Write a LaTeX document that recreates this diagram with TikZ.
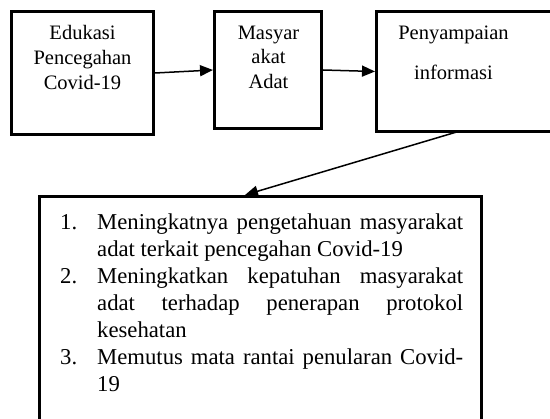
\documentclass[tikz,border=0pt]{standalone}
\usepackage{fontspec}
\setmainfont{Liberation Serif}
\usetikzlibrary{arrows.meta}
\newcommand{\listitem}[2]{\noindent\hangindent=37pt\hangafter=1\makebox[37pt][l]{#1}#2\par}
\begin{document}
\begin{tikzpicture}[x=1pt,y=-1pt,
  box/.style={draw,line width=3.4pt,inner sep=0pt,outer sep=1.7pt},
  lbl/.style={font=\fontsize{20.5}{24}\selectfont,anchor=base,inner sep=0pt},
  arr/.style={line width=1.5pt,-{Triangle[length=13pt,width=11pt]}}]
\useasboundingbox (0,0) rectangle (550,419);
\clip (0,0) rectangle (550,419);
\fill[white] (0,0) rectangle (550,419);
% boxes
\node[box,minimum width=141.6pt,minimum height=122.6pt] (b1) at (82.5,73) {};
\node[box,minimum width=106.6pt,minimum height=116.6pt] (b2) at (268,70) {};
\node[box,minimum width=181.6pt,minimum height=119.6pt] (b3) at (467.5,71.5) {};
\node[box,minimum width=441.6pt,minimum height=251.6pt] (bb) at (260.5,322.5) {};
% labels
\node[lbl] (t1a) at (82.5,39.5) {Edukasi};
\node[lbl] (t1b) at (82.5,64.5) {Pencegahan};
\node[lbl] (t1c) at (82.5,89.5) {Covid-19};
\node[lbl] (t2a) at (268.5,39.5) {Masyar};
\node[lbl] (t2b) at (268.5,63.5) {akat};
\node[lbl] (t2c) at (268.5,88.5) {Adat};
\node[lbl] (t3a) at (453.5,40) {Penyampaian};
\node[lbl] (t3b) at (453.5,80) {informasi};
% list
\node[anchor=base west,text width=403pt,inner sep=0pt,align=justify,
      font=\fontsize{22.7}{27}\selectfont] (list) at (60,230) {\hbadness=10000\tolerance=10000%
  \listitem{1.}{Meningkatnya pengetahuan masyarakat\linebreak adat terkait pencegahan Covid-19}%
  \listitem{2.}{Meningkatkan kepatuhan masyarakat\linebreak adat terhadap penerapan protokol\linebreak kesehatan}%
  \listitem{3.}{Memutus mata rantai penularan Covid-\linebreak 19}};
% connectors
\draw[arr] (b1.east) -- (b2.west);
\draw[arr] (b2.east) -- (b3.west);
\draw[arr] ([xshift=-7.5pt,yshift=2pt]b3.south) -- ([xshift=-15.5pt]bb.north);
\end{tikzpicture}
\end{document}
